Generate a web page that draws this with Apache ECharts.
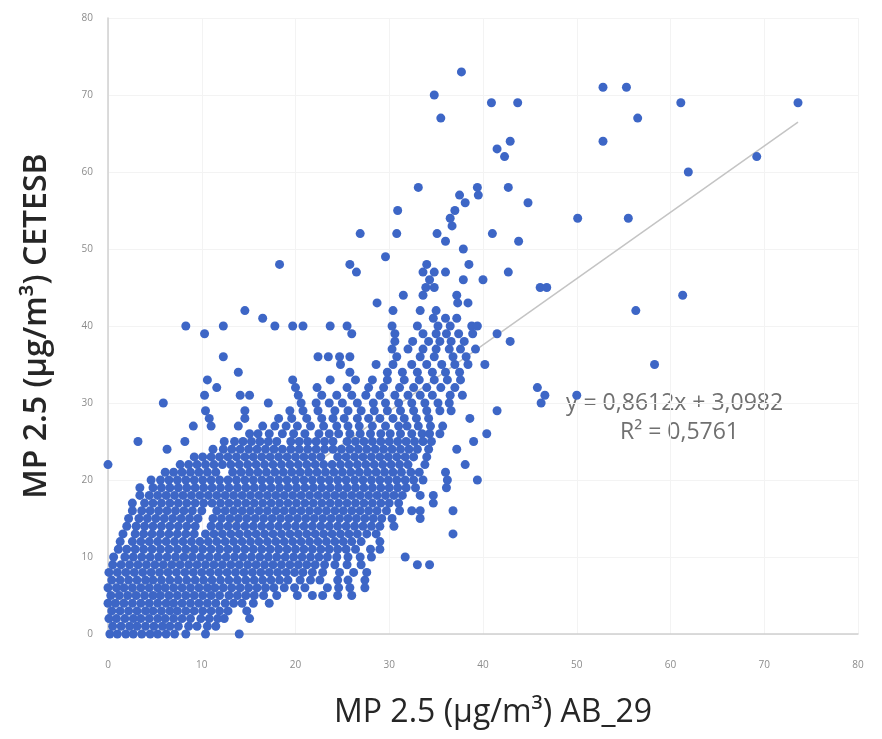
<!DOCTYPE html>
<html>
<head>
<meta charset="utf-8">
<title>MP 2.5 AB_29 x CETESB</title>
<script src="https://cdn.jsdelivr.net/npm/echarts@6/dist/echarts.min.js"></script>
<style>
  html, body { margin: 0; padding: 0; background: #fff; }
  #chart { width: 882px; height: 739px; }
</style>
</head>
<body>
<div id="chart"></div>
<script>
// each row: [CETESB value, [AB_29 values read at that level]]
const lowBand = [
  [0, [0.2, 1.0, 1.9, 2.7, 3.6, 4.5, 5.3, 6.2, 7.1, 8.3, 10.4, 14.0]],
  [1, [0.5, 1.4, 2.3, 3.1, 4.0, 4.9, 5.8, 6.6, 7.5, 8.6, 9.5, 10.6, 11.5]],
  [2, [0.1, 0.9, 1.8, 2.7, 3.5, 4.4, 5.3, 6.1, 7.0, 7.9, 8.8, 9.9, 10.8, 11.7, 12.4, 15.1]],
  [3, [0.4, 1.3, 2.2, 3.1, 4.0, 4.8, 5.7, 6.6, 7.4, 8.3, 9.2, 10.1, 11.0, 11.9, 12.8, 14.8]],
  [4, [0.0, 0.8, 1.7, 2.6, 3.5, 4.4, 5.3, 6.2, 7.0, 7.9, 8.8, 9.7, 10.6, 11.5, 12.5, 13.4, 14.3, 15.5, 17.2]],
  [5, [0.3, 1.2, 2.1, 3.0, 3.9, 4.8, 5.6, 6.5, 7.4, 8.3, 9.2, 10.1, 11.0, 11.9, 12.9, 13.8, 14.7, 15.6, 16.6, 18.0, 20.2, 21.8, 22.9, 24.5, 26.0]],
  [6, [0.0, 0.9, 1.7, 2.6, 3.5, 4.4, 5.3, 6.1, 7.0, 7.9, 8.8, 9.7, 10.6, 11.4, 12.3, 13.2, 14.1, 15.0, 15.9, 16.8, 17.7, 18.8, 19.9, 21.0, 23.4, 24.6, 25.8, 27.4]],
  [7, [0.4, 1.3, 2.2, 3.1, 4.0, 4.8, 5.7, 6.6, 7.5, 8.4, 9.3, 10.2, 11.1, 12.0, 12.9, 13.8, 14.7, 15.6, 16.5, 17.4, 18.3, 19.2, 20.5, 21.6, 22.6, 24.5, 25.6, 27.4]],
  [8, [0.1, 1.0, 1.9, 2.8, 3.7, 4.6, 5.5, 6.4, 7.3, 8.2, 9.1, 10.0, 10.9, 11.8, 12.7, 13.6, 14.5, 15.4, 16.3, 17.2, 18.1, 19.0, 19.9, 20.8, 21.8, 22.9, 24.7, 26.2, 27.6]],
  [9, [0.5, 1.4, 2.3, 3.2, 4.1, 5.0, 5.9, 6.8, 7.7, 8.6, 9.5, 10.4, 11.3, 12.2, 13.1, 14.0, 14.9, 15.8, 16.7, 17.6, 18.5, 19.4, 20.3, 21.2, 22.1, 23.1, 24.2, 25.5, 27.0, 33.0, 34.3]],
  [10, [0.6, 1.8, 2.7, 3.6, 4.5, 5.4, 6.3, 7.2, 8.1, 9.0, 9.9, 10.8, 11.7, 12.6, 13.5, 14.4, 15.3, 16.2, 17.1, 18.0, 18.9, 19.8, 20.7, 21.6, 22.5, 23.4, 24.4, 25.6, 26.9, 28.1, 31.7]],
  [11, [1.1, 2.0, 2.9, 3.8, 4.7, 5.6, 6.5, 7.4, 8.3, 9.2, 10.1, 11.0, 11.9, 12.8, 13.7, 14.6, 15.5, 16.4, 17.3, 18.2, 19.1, 20.0, 20.9, 21.8, 22.7, 23.6, 24.5, 25.4, 26.4, 28.0, 29.0]],
  [12, [1.3, 2.6, 3.5, 4.4, 5.3, 6.2, 7.1, 8.0, 8.9, 9.8, 10.7, 11.6, 12.5, 13.4, 14.3, 15.2, 16.1, 17.0, 17.9, 18.8, 19.7, 20.6, 21.5, 22.4, 23.3, 24.2, 25.1, 26.0, 27.0, 29.0]]
]

const midBand = [
  [13, [1.6, 2.9, 3.8, 4.7, 5.6, 6.5, 7.4, 8.3, 9.2, 10.4, 11.3, 12.2, 13.1, 14.0, 14.9, 15.8, 16.7, 17.6, 18.5, 19.4, 20.3, 21.2, 22.1, 23.0, 23.9, 24.8, 25.7, 26.6, 27.6, 28.6, 36.8]],
  [14, [2.0, 3.0, 3.9, 4.8, 5.7, 6.6, 7.5, 8.4, 9.3, 11.0, 11.9, 12.8, 13.7, 14.6, 15.5, 16.4, 17.3, 18.2, 19.1, 20.0, 20.9, 21.8, 22.7, 23.6, 24.5, 25.4, 26.3, 27.2, 28.1, 29.0, 30.5]],
  [15, [2.2, 3.3, 4.2, 5.1, 6.0, 6.9, 7.8, 8.7, 9.6, 11.2, 12.1, 13.0, 13.9, 14.8, 15.7, 16.6, 17.5, 18.4, 19.3, 20.2, 21.1, 22.0, 22.9, 23.8, 24.7, 25.6, 26.5, 27.4, 28.3, 29.2, 30.3, 33.3]],
  [16, [2.6, 3.6, 4.5, 5.4, 6.3, 7.2, 8.1, 9.0, 10.0, 11.6, 12.5, 13.4, 14.3, 15.2, 16.1, 17.0, 17.9, 18.8, 19.7, 20.6, 21.5, 22.4, 23.3, 24.2, 25.1, 26.0, 26.9, 27.8, 28.7, 29.7, 31.1, 32.4, 33.3, 36.8]],
  [17, [2.6, 3.9, 4.8, 5.7, 6.6, 7.5, 8.4, 9.3, 10.2, 11.1, 12.0, 12.9, 13.8, 14.7, 15.6, 16.5, 17.4, 18.3, 19.2, 20.1, 21.0, 21.9, 22.8, 23.7, 24.6, 25.5, 26.4, 27.3, 28.2, 29.1, 30.0, 31.0, 34.7]],
  [18, [3.4, 4.4, 5.3, 6.2, 7.1, 8.0, 8.9, 9.8, 10.7, 11.6, 12.5, 13.4, 14.3, 15.2, 16.1, 17.0, 17.9, 18.8, 19.7, 20.6, 21.5, 22.4, 23.3, 24.2, 25.1, 26.0, 26.9, 27.8, 28.7, 29.6, 30.5, 31.4, 33.3, 34.7]],
  [19, [3.4, 4.8, 5.7, 6.6, 7.5, 8.4, 9.3, 10.2, 11.1, 12.0, 12.9, 13.8, 14.7, 15.6, 16.5, 17.4, 18.3, 19.2, 20.1, 21.0, 21.9, 22.8, 23.7, 24.6, 25.5, 26.4, 27.3, 28.2, 29.1, 30.0, 30.9, 31.8, 32.8, 36.1]],
  [20, [4.6, 5.6, 6.5, 7.4, 8.3, 9.2, 10.1, 11.0, 11.9, 12.8, 13.7, 14.6, 15.5, 16.4, 17.3, 18.2, 19.1, 20.0, 20.9, 21.8, 22.7, 23.6, 24.5, 25.4, 26.3, 27.2, 28.1, 29.0, 29.9, 30.8, 31.7, 32.6, 33.6, 36.2, 39.4]],
  [21, [6.1, 7.0, 7.9, 8.8, 9.7, 10.6, 11.5, 13.3, 14.2, 15.1, 16.0, 16.9, 17.8, 18.7, 19.6, 20.5, 21.4, 22.3, 23.2, 24.1, 25.0, 25.9, 26.8, 27.7, 28.6, 29.5, 30.4, 31.3, 32.3, 33.2, 36.0]],
  [22, [0.0, 7.7, 8.6, 9.5, 10.4, 11.3, 12.2, 13.1, 14.0, 14.9, 15.8, 16.7, 17.6, 18.5, 19.4, 20.3, 21.2, 22.1, 23.0, 23.9, 24.8, 25.7, 26.6, 27.5, 28.4, 29.3, 30.2, 31.1, 32.0, 33.8, 38.1]],
  [23, [9.2, 10.1, 11.0, 11.9, 12.8, 13.7, 14.6, 15.5, 16.4, 17.3, 18.2, 19.1, 20.0, 20.9, 21.8, 22.7, 24.5, 25.4, 26.3, 27.2, 28.1, 29.0, 29.9, 30.8, 31.7, 32.6, 34.0]],
  [24, [6.3, 11.2, 12.3, 13.2, 14.1, 15.0, 15.9, 16.8, 17.7, 18.6, 19.5, 20.4, 21.3, 22.2, 23.1, 24.0, 24.9, 25.8, 26.7, 27.6, 28.5, 29.4, 30.3, 31.2, 32.1, 33.0, 34.2, 37.2]],
  [25, [3.2, 8.2, 12.4, 13.5, 14.4, 15.3, 16.2, 17.1, 18.0, 19.5, 20.4, 21.3, 22.2, 23.1, 24.0, 25.5, 26.4, 27.3, 28.2, 29.1, 30.0, 30.9, 31.8, 32.7, 33.6, 34.5, 39.0]]
]

const upperBand = [
  [26, [15.1, 16.0, 17.2, 18.6, 19.8, 21.0, 22.5, 23.6, 24.6, 25.8, 26.9, 28.0, 29.1, 30.1, 31.2, 32.4, 33.5, 34.3, 35.4, 40.4]],
  [27, [9.1, 11.0, 13.9, 16.5, 17.8, 19.0, 20.2, 21.6, 23.0, 24.4, 25.6, 26.8, 28.2, 29.6, 31.0, 31.9, 33.1, 34.4, 35.7]],
  [28, [10.8, 14.6, 18.2, 19.6, 21.2, 22.8, 24.0, 25.2, 26.6, 27.8, 29.0, 30.4, 31.6, 32.9, 34.2, 38.6]],
  [29, [10.4, 14.6, 19.4, 20.8, 22.4, 24.2, 25.6, 27.0, 28.4, 29.8, 31.2, 32.6, 34.0, 35.4, 36.6, 41.5]],
  [30, [5.9, 17.1, 20.6, 22.2, 23.6, 25.0, 26.6, 28.3, 29.6, 31.0, 32.4, 33.8, 35.2, 36.4, 46.2]],
  [31, [10.3, 14.1, 15.1, 20.3, 22.8, 24.4, 26.0, 27.5, 29.0, 30.6, 32.0, 33.3, 34.6, 36.5, 37.8, 46.6, 50.0]],
  [32, [11.6, 20.0, 22.3, 25.5, 27.8, 29.4, 31.1, 32.6, 34.0, 35.5, 37.0, 45.8]],
  [33, [10.6, 19.7, 23.7, 26.4, 28.2, 29.8, 31.6, 33.2, 34.8, 36.2, 37.6]],
  [34, [13.9, 25.8, 29.8, 31.4, 33.0, 34.6, 36.0, 37.5]],
  [35, [24.8, 28.6, 30.4, 32.4, 34.0, 35.6, 37.0, 38.4, 40.2, 58.3]],
  [36, [12.3, 22.4, 23.5, 24.7, 25.8, 30.8, 33.3, 34.8, 36.8, 38.2]],
  [37, [30.3, 32.0, 33.6, 35.0, 36.4, 37.6, 39.2]],
  [38, [30.6, 32.5, 34.2, 35.4, 36.6, 38.0, 42.9]],
  [39, [10.3, 26.0, 30.6, 33.6, 35.0, 36.1, 37.4, 38.9, 41.5]],
  [40, [8.3, 12.3, 17.8, 19.7, 20.8, 23.7, 25.5, 30.3, 33.0, 35.2, 36.5, 38.8, 39.4]],
  [41, [16.5, 34.7, 36.0, 37.2]],
  [42, [14.6, 30.4, 33.3, 35.0, 56.3]],
  [43, [28.7, 37.3, 38.4]],
  [44, [31.5, 33.6, 37.2, 61.3]],
  [45, [33.9, 34.8, 46.1, 46.8]],
  [46, [34.3, 37.9, 40.0]],
  [47, [26.5, 33.6, 34.8, 36.0, 42.7]],
  [48, [18.3, 25.8, 34.0, 38.5]],
  [49, [29.6]],
  [50, [37.9]],
  [51, [36.0, 43.8]],
  [52, [26.9, 30.8, 35.1, 41.0]],
  [53, [36.7]],
  [54, [36.5, 50.1, 55.5]],
  [55, [30.9, 37.0]],
  [56, [38.1, 44.8]],
  [57, [37.5, 39.5]],
  [58, [33.1, 39.4, 42.7]],
  [60, [61.9]],
  [62, [42.3, 69.2]],
  [63, [41.5]],
  [64, [42.9, 52.8]],
  [67, [35.5, 56.5]],
  [69, [40.9, 43.7, 61.1, 73.6]],
  [70, [34.8]],
  [71, [52.8, 55.3]],
  [73, [37.7]]
]

// linear trend shown on the chart
const trendSlope = 0.8612
const trendIntercept = 3.0982
const trendRange = [0, 73.6]

const axisTicks = [0, 10, 20, 30, 40, 50, 60, 70, 80]

const points = []
lowBand.concat(midBand, upperBand).forEach(([cetesb, xs]) => {
  xs.forEach(ab29 => points.push([ab29, cetesb]))
})
const trendLine = trendRange.map(x => [x, trendSlope * x + trendIntercept])

const chart = echarts.init(document.getElementById('chart'))

const tickStyle = {
  color: '#8c8c8c',
  fontSize: 10,
  fontFamily: 'Open Sans'
}

chart.setOption({
  animation: false,
  backgroundColor: '#fff',
  grid: {
    left: 108,
    right: 24,
    top: 18,
    bottom: 105
  },
  xAxis: {
    type: 'value',
    min: axisTicks[0],
    max: axisTicks[axisTicks.length - 1],
    interval: 10,
    name: 'MP 2.5 (µg/m³) AB_29',
    nameLocation: 'middle',
    nameGap: 63,
    nameTextStyle: {
      color: '#262626',
      fontSize: 32,
      fontFamily: 'Open Sans',
      padding: [0, 0, 0, 20]
    },
    axisLine: { lineStyle: { color: '#d0d0d0', width: 1.5 } },
    axisTick: { show: false },
    splitLine: { lineStyle: { color: '#f3f3f3' } },
    axisLabel: Object.assign({ margin: 26 }, tickStyle)
  },
  yAxis: {
    type: 'value',
    min: axisTicks[0],
    max: axisTicks[axisTicks.length - 1],
    interval: 10,
    name: 'MP 2.5 (µg/m³) CETESB',
    nameLocation: 'middle',
    nameGap: 55,
    nameRotate: 90,
    nameTextStyle: {
      color: '#262626',
      fontSize: 32,
      fontWeight: 600,
      fontFamily: 'Open Sans'
    },
    axisLine: { show: true, lineStyle: { color: '#d0d0d0', width: 1.5 } },
    axisTick: { show: false },
    splitLine: { lineStyle: { color: '#f3f3f3' } },
    axisLabel: Object.assign({ margin: 15 }, tickStyle)
  },
  series: [
    {
      name: 'trend',
      type: 'line',
      data: trendLine,
      symbol: 'none',
      z: 1,
      lineStyle: { color: '#c4c4c4', width: 1.5 }
    },
    {
      name: 'AB_29 x CETESB',
      type: 'scatter',
      data: points,
      symbol: 'circle',
      symbolSize: 9,
      z: 2,
      itemStyle: { color: '#3d66c6', opacity: 1 }
    }
  ],
  graphic: [
    {
      type: 'text',
      left: 566,
      top: 392,
      style: {
        text: 'y = 0,8612x + 3,0982',
        fill: '#707070',
        font: '23px "Open Sans"'
      }
    },
    {
      type: 'text',
      left: 620,
      top: 421,
      style: {
        text: 'R² = 0,5761',
        fill: '#707070',
        font: '23px "Open Sans"'
      }
    }
  ]
})
</script>
</body>
</html>
